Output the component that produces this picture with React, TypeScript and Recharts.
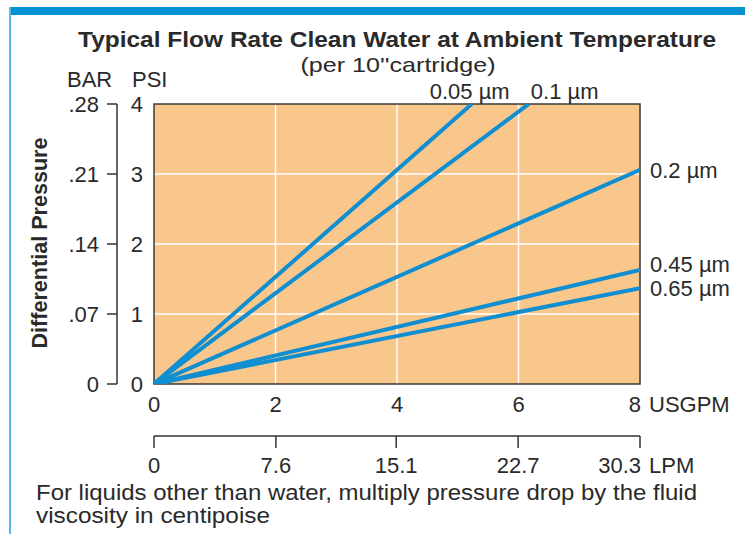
import React from 'react';
import { LineChart, Line, XAxis, YAxis, CartesianGrid, ReferenceArea } from 'recharts';

// ---- data ----
const seriesNames = ['0.05 µm', '0.1 µm', '0.2 µm', '0.45 µm', '0.65 µm'];
const series005 = [{ gpm: 0, psi: 0 }, { gpm: 5.23, psi: 4 }];
const series01 = [{ gpm: 0, psi: 0 }, { gpm: 6.17, psi: 4 }];
const series02 = [{ gpm: 0, psi: 0 }, { gpm: 8, psi: 3.06 }];
const series045 = [{ gpm: 0, psi: 0 }, { gpm: 8, psi: 1.63 }];
const series065 = [{ gpm: 0, psi: 0 }, { gpm: 8, psi: 1.37 }];
const allSeries = [series005, series01, series02, series045, series065];

const gpmTicks = [0, 2, 4, 6, 8];
const lpmTicks = [0, 7.6, 15.1, 22.7, 30.3];
const psiTicks = [0, 1, 2, 3, 4];
const barTicks = [0, 0.07, 0.14, 0.21, 0.28];

const titleText = 'Typical Flow Rate Clean Water at Ambient Temperature';
const subtitleText = "(per 10''cartridge)";
const yTitle = 'Differential Pressure';
const noteLines = [
  'For liquids other than water, multiply pressure drop by the fluid',
  'viscosity in centipoise',
];

// table for the secondary (LPM) axis
const lpmTable = lpmTicks.map((v) => ({ lpm: v }));

// ---- style ----
const FONT = '"Liberation Sans", Arial, Helvetica, sans-serif';
const TEXT = '#2a2a2a';
const BLUE = '#0f8fd1';
const ORANGE = '#f9c68b';
const FS = 22;

const labelStyle = [
  { anchor: 'middle', dx: -2, dy: -13 },
  { anchor: 'start', dx: 2, dy: -13 },
  { anchor: 'start', dx: 10, dy: 0 },
  { anchor: 'start', dx: 10, dy: -6 },
  { anchor: 'start', dx: 10, dy: 0 },
];

const fmtBar = (v: number) => (v === 0 ? '0' : '.' + String(Math.round(v * 100)).padStart(2, '0'));

const makeXTick = (unit: string, lastValue: number) => (props: any) => {
  const { x, y, payload } = props;
  const isLast = Math.abs(payload.value - lastValue) < 1e-9;
  return (
    <g>
      <text x={isLast ? x + 1 : x} y={y} dy="0.71em" textAnchor={isLast ? 'end' : 'middle'}
        fill={TEXT} fontSize={FS} fontFamily={FONT}>{String(payload.value)}</text>
      {isLast && (
        <text x={x + 9} y={y} dy="0.71em" textAnchor="start" fill={TEXT} fontSize={FS} fontFamily={FONT}>{unit}</text>
      )}
    </g>
  );
};

const makeSeriesLabel = (i: number) => (props: any) => {
  const { x, y, index } = props;
  if (index !== allSeries[i].length - 1) return <g />;
  const s = labelStyle[i];
  return (
    <text x={x + s.dx} y={y + s.dy} dy="0.35em" textAnchor={s.anchor as any}
      fill={TEXT} fontSize={FS} fontFamily={FONT}>{seriesNames[i]}</text>
  );
};

export default function App() {
  return (
    <div style={{ position: 'absolute', left: 0, top: 0, width: 745, height: 534, background: '#fff' }}>
      <LineChart width={745} height={534} data={lpmTable} margin={{ top: 104, right: 105, left: 57, bottom: 38 }}>
        <CartesianGrid xAxisId="gpm" yAxisId="ya" stroke="#fff" strokeWidth={1.5} fill={ORANGE} fillOpacity={1}
          verticalValues={[2, 4, 6]} horizontalValues={[1, 2, 3]} />
        <XAxis xAxisId="gpm" dataKey="gpm" type="number" domain={[0, 8]} ticks={gpmTicks} allowDataOverflow
          axisLine={false} tickLine={false} tickSize={0} tickMargin={12} height={52} interval={0}
          tick={makeXTick('USGPM', 8)} />
        <XAxis xAxisId="lpm" dataKey="lpm" type="number" domain={[0, 30.3]} ticks={lpmTicks} allowDataOverflow
          axisLine={{ stroke: '#333', strokeWidth: 1.5 }} tickLine={{ stroke: '#333', strokeWidth: 1.5 }}
          tickSize={12} tickMargin={9} height={60} interval={0} tick={makeXTick('LPM', 30.3)} />
        <YAxis yAxisId="ya" type="number" domain={[0, 4]} ticks={psiTicks} allowDataOverflow
          axisLine={false} tickLine={false} tickSize={0} tickMargin={11} width={37} interval={0}
          tick={{ fill: TEXT, fontSize: FS, fontFamily: FONT }} />
        <YAxis yAxisId="yb" type="number" domain={[0, 0.28]} ticks={barTicks} allowDataOverflow
          axisLine={{ stroke: '#333', strokeWidth: 1.5 }} tickLine={{ stroke: '#333', strokeWidth: 1.5 }}
          tickSize={10} tickMargin={8} width={60} interval={0} tickFormatter={fmtBar}
          tick={{ fill: TEXT, fontSize: FS, fontFamily: FONT }} />
        <ReferenceArea xAxisId="gpm" yAxisId="ya" x1={0} x2={8} y1={0} y2={4}
          fill="none" stroke="#3a3a3a" strokeWidth={1.5} ifOverflow="visible" />
        {allSeries.map((d, i) => (
          <Line key={seriesNames[i]} xAxisId="gpm" yAxisId="ya" data={d} dataKey="psi" type="linear"
            stroke={BLUE} strokeWidth={4} dot={false} isAnimationActive={false}
            label={makeSeriesLabel(i)} />
        ))}
      </LineChart>
      <svg width={745} height={534} style={{ position: 'absolute', left: 0, top: 0, pointerEvents: 'none' }}>
        <rect x={9} y={7} width={736} height={8} fill="#0092d2" />
        <rect x={9} y={7} width={2} height={527} fill="#55b9e8" />
        <text x={397} y={47} textAnchor="middle" fontSize={22} fontWeight="bold" fill={TEXT} fontFamily={FONT}
          textLength={638} lengthAdjust="spacingAndGlyphs">{titleText}</text>
        <text x={398} y={72} textAnchor="middle" fontSize={21} fill={TEXT} fontFamily={FONT}
          textLength={195} lengthAdjust="spacingAndGlyphs">{subtitleText}</text>
        <text x={67} y={87} fontSize={FS} fill={TEXT} fontFamily={FONT}>BAR</text>
        <text x={132} y={87} fontSize={FS} fill={TEXT} fontFamily={FONT}>PSI</text>
        <text x={0} y={0} transform="translate(47,243) rotate(-90)" textAnchor="middle" fontSize={21.5}
          fontWeight="bold" fill={TEXT} fontFamily={FONT} textLength={211} lengthAdjust="spacingAndGlyphs">{yTitle}</text>
        <text x={36} y={500} fontSize={22.5} fill={TEXT} fontFamily={FONT}
          textLength={661} lengthAdjust="spacingAndGlyphs">{noteLines[0]}</text>
        <text x={36} y={523} fontSize={22.5} fill={TEXT} fontFamily={FONT}
          textLength={234} lengthAdjust="spacingAndGlyphs">{noteLines[1]}</text>
      </svg>
    </div>
  );
}
